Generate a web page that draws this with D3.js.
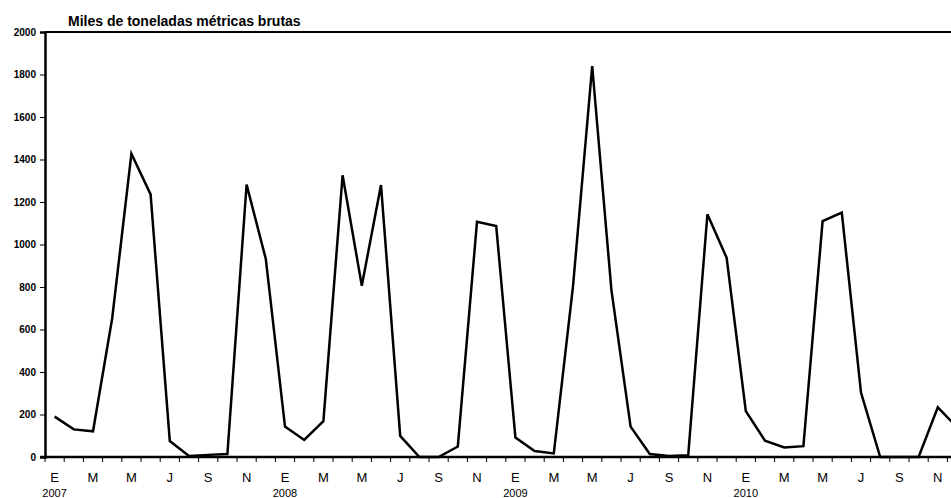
<!DOCTYPE html>
<html lang="es">
<head>
<meta charset="UTF-8">
<title>Miles de toneladas métricas brutas</title>
<script src="https://d3js.org/d3.v7.min.js"></script>
<style>
  body { margin: 0; background: #fff; }
  svg { display: block; font-family: "Liberation Sans", Arial, sans-serif; }
</style>
</head>
<body>
<div id="chart"></div>
<script>
// months Jan 2007 - Dec 2010
const years = [2007, 2008, 2009, 2010];
const monthLetters = ['E', 'F', 'M', 'A', 'M', 'J', 'J', 'A', 'S', 'O', 'N', 'D'];
// thousands of gross metric tons
const values2007 = [190, 130, 121, 653, 1427, 1236, 75, 5, 10, 14, 1282, 932];
const values2008 = [143, 80, 169, 1326, 806, 1280, 99, 0, 0, 49, 1107, 1087];
const values2009 = [92, 28, 17, 803, 1840, 786, 143, 14, 5, 8, 1142, 938];
const values2010 = [216, 77, 45, 51, 1110, 1150, 303, 0, 0, 0, 234, 140];
const yTicks = [0, 200, 400, 600, 800, 1000, 1200, 1400, 1600, 1800, 2000];

const data = [];
[values2007, values2008, values2009, values2010].forEach((vals, yi) => {
    vals.forEach((v, m) => data.push({ key: years[yi] + '-' + m, year: years[yi], month: m, value: v }));
});

const width = 951, height = 498;
const margin = { left: 45, top: 32 };
const plotBottom = 457;
const band = 19.2;
const narrow = '"Liberation Sans Narrow", "Liberation Sans", Arial, sans-serif';

const svg = d3.select('#chart').append('svg')
    .attr('width', width)
    .attr('height', height);

const x = d3.scaleBand()
    .domain(data.map(d => d.key))
    .range([margin.left, margin.left + band * data.length])
    .paddingInner(0).paddingOuter(0);

const y = d3.scaleLinear()
    .domain([0, 2000])
    .range([plotBottom, margin.top]);

// title
svg.append('text')
    .attr('x', 68)
    .attr('y', 26)
    .attr('font-size', '14px')
    .attr('font-weight', 'bold')
    .text('Miles de toneladas métricas brutas');

// top border
svg.append('line')
    .attr('x1', margin.left).attr('x2', width)
    .attr('y1', margin.top).attr('y2', margin.top)
    .attr('stroke', '#000').attr('stroke-width', 2);

// y axis
const yAxis = svg.append('g')
    .attr('transform', `translate(${margin.left},0)`)
    .call(d3.axisLeft(y).tickValues(yTicks).tickSize(5).tickPadding(4).tickFormat(d3.format('d')));
yAxis.select('.domain').attr('stroke-width', 2.5);
yAxis.selectAll('.tick line').attr('stroke-width', 1);
yAxis.selectAll('text').attr('font-size', '10px').attr('font-weight', 'bold').attr('fill', '#000');

// x axis: ticks at band boundaries
const boundaries = d3.range(data.length + 1).map(i => margin.left + i * x.step());
svg.append('g').selectAll('line')
    .data(boundaries)
    .join('line')
    .attr('x1', d => d).attr('x2', d => d)
    .attr('y1', plotBottom).attr('y2', plotBottom + 5)
    .attr('stroke', '#000').attr('stroke-width', 1);

svg.append('line')
    .attr('x1', margin.left - 5).attr('x2', width)
    .attr('y1', plotBottom).attr('y2', plotBottom)
    .attr('stroke', '#000').attr('stroke-width', 2.5);

// month letters every other month
svg.append('g').selectAll('text')
    .data(data.filter(d => d.month % 2 === 0))
    .join('text')
    .attr('x', d => x(d.key) + x.bandwidth() / 2)
    .attr('y', 482)
    .attr('text-anchor', 'middle')
    .attr('font-family', narrow)
    .attr('font-size', '13px')
    .text(d => monthLetters[d.month]);

// year labels under January
svg.append('g').selectAll('text')
    .data(data.filter(d => d.month === 0))
    .join('text')
    .attr('x', d => x(d.key) + x.bandwidth() / 2)
    .attr('y', 497)
    .attr('text-anchor', 'middle')
    .attr('font-family', narrow)
    .attr('font-size', '11px')
    .text(d => d.year);

// series line
const line = d3.line()
    .x(d => x(d.key) + x.bandwidth() / 2)
    .y(d => y(d.value));

svg.append('path')
    .datum(data)
    .attr('d', line)
    .attr('fill', 'none')
    .attr('stroke', '#000')
    .attr('stroke-width', 2.5)
    .attr('stroke-linejoin', 'miter');
</script>
</body>
</html>
